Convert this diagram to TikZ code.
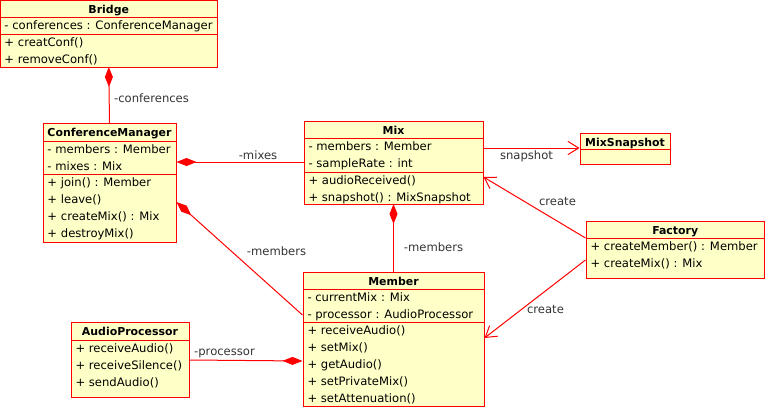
\documentclass[tikz,border=0pt]{standalone}
\usepackage{fontspec}
\setmainfont{DejaVu Sans}
\usetikzlibrary{arrows.meta,fit}

\definecolor{umlred}{RGB}{255,0,0}
\definecolor{umlfill}{RGB}{255,255,200}
\definecolor{umllabel}{RGB}{51,51,51}

\tikzset{every picture/.style={line width=0.75pt}}
\tikzset{
  classbox/.style={draw=umlred, fill=umlfill, inner sep=0pt},
  classname/.style={anchor=base, inner sep=0pt, font=\fontsize{8.2}{10}\selectfont\bfseries},
  member/.style={anchor=base west, inner sep=0pt, font=\fontsize{8.7}{10}\selectfont},
  rolelabel/.style={inner sep=0pt, text=umllabel, font=\fontsize{8.7}{10}\selectfont},
  compose/.style={draw=umlred, {Diamond[length=15pt,width=6pt]}-},
  depend/.style={draw=umlred, -{Straight Barb[length=8pt,width=10pt]}}
}

\begin{document}
\begin{tikzpicture}[x=0.75pt,y=0.75pt,yscale=-1,xscale=1]
\useasboundingbox (0,0) rectangle (765,407);

%Class: Bridge
\node [classbox, fit={(0.5,0.5) (217,67)}] (bridge) {};
\draw [umlred] (bridge.west |- 0,17) -- (bridge.east |- 0,17) (bridge.west |- 0,34) -- (bridge.east |- 0,34) ;
\node [classname] (bridgeName) at (bridge.north |- 0,13) {Bridge};
\node [member] (bridgeA1) at (4,29.5) {- conferences : ConferenceManager};
\node [member] (bridgeO1) at (4,46.5) {+ creatConf()};
\node [member] (bridgeO2) at (4,63.5) {+ removeConf()};

%Class: ConferenceManager
\node [classbox, fit={(43,123) (176,242)}] (cm) {};
\draw [umlred] (cm.west |- 0,141) -- (cm.east |- 0,141) (cm.west |- 0,174) -- (cm.east |- 0,174) ;
\node [classname] (cmName) at (cm.north |- 0,136) {ConferenceManager};
\node [member] (cmA1) at (47,153.5) {- members : Member};
\node [member] (cmA2) at (47,170.5) {- mixes : Mix};
\node [member] (cmO1) at (47,186.5) {+ join() : Member};
\node [member] (cmO2) at (47,203.5) {+ leave()};
\node [member] (cmO3) at (47,220.5) {+ createMix() : Mix};
\node [member] (cmO4) at (47,237.5) {+ destroyMix()};

%Class: Mix
\node [classbox, fit={(304,121) (483,204)}] (mix) {};
\draw [umlred] (mix.west |- 0,138) -- (mix.east |- 0,138) (mix.west |- 0,172) -- (mix.east |- 0,172) ;
\node [classname] (mixName) at (mix.north |- 0,134) {Mix};
\node [member] (mixA1) at (308,150.5) {- members : Member};
\node [member] (mixA2) at (308,167.5) {- sampleRate : int};
\node [member] (mixO1) at (308,184.5) {+ audioReceived()};
\node [member] (mixO2) at (308,201) {+ snapshot() : MixSnapshot};

%Class: MixSnapshot
\node [classbox, fit={(580,133) (670,164)}] (snap) {};
\draw [umlred] (snap.west |- 0,149) -- (snap.east |- 0,149) ;
\node [classname] (snapName) at (snap.north |- 0,146) {MixSnapshot};

%Class: Factory
\node [classbox, fit={(586,221) (764.5,278)}] (factory) {};
\draw [umlred] (factory.west |- 0,238) -- (factory.east |- 0,238) ;
\node [classname] (factoryName) at (factory.north |- 0,234) {Factory};
\node [member] (factoryO1) at (590,250.5) {+ createMember() : Member};
\node [member] (factoryO2) at (590,267.5) {+ createMix() : Mix};

%Class: Member
\node [classbox, fit={(303,272) (484,406)}] (member) {};
\draw [umlred] (member.west |- 0,289) -- (member.east |- 0,289) (member.west |- 0,322) -- (member.east |- 0,322) ;
\node [classname] (memberName) at (member.north |- 0,285) {Member};
\node [member] (memberA1) at (307,301.5) {- currentMix : Mix};
\node [member] (memberA2) at (307,318.5) {- processor : AudioProcessor};
\node [member] (memberO1) at (307,334.5) {+ receiveAudio()};
\node [member] (memberO2) at (307,351.5) {+ setMix()};
\node [member] (memberO3) at (307,368.5) {+ getAudio()};
\node [member] (memberO4) at (307,385.5) {+ setPrivateMix()};
\node [member] (memberO5) at (307,402.5) {+ setAttenuation()};

%Class: AudioProcessor
\node [classbox, fit={(71,322) (189,397)}] (proc) {};
\draw [umlred] (proc.west |- 0,340) -- (proc.east |- 0,340) ;
\node [classname] (procName) at (proc.north |- 0,335) {AudioProcessor};
\node [member] (procO1) at (75,352.5) {+ receiveAudio()};
\node [member] (procO2) at (75,369.5) {+ receiveSilence()};
\node [member] (procO3) at (75,386.5) {+ sendAudio()};

%Compositions
\draw [compose] (bridge.south |- 0,67) -- (cm.north |- 0,123) ;
\draw [compose] (cm.east |- 0,162) -- (mix.west |- 0,162) ;
\draw [compose] (cm.east |- 0,202) -- (member.west |- 0,315) ;
\draw [compose] (mix.south |- 0,204) -- (member.north |- 0,272) ;
\draw [compose] (member.west |- 0,361) -- (proc.east |- 0,360) ;

%Dependencies
\draw [depend] (mix.east |- 0,148) -- (snap.west |- 0,148) ;
\draw [depend] (factory.west |- 0,238) -- (mix.east |- 0,177) ;
\draw [depend] (factory.west |- 0,260) -- (member.east |- 0,338) ;

% Text Node
\node [rolelabel] (lblConf) at (151.5,98) {-conferences};
\node [rolelabel] (lblMixes) at (258,155) {-mixes};
\node [rolelabel] (lblCmMembers) at (276.5,251) {-members};
\node [rolelabel] (lblMixMembers) at (433.5,247) {-members};
\node [rolelabel] (lblProc) at (224.5,353) {-processor};
\node [rolelabel] (lblSnap) at (526.5,156) {snapshot};
\node [rolelabel] (lblCreateMix) at (557.5,202) {create};
\node [rolelabel] (lblCreateMember) at (545.5,310) {create};

\end{tikzpicture}
\end{document}
